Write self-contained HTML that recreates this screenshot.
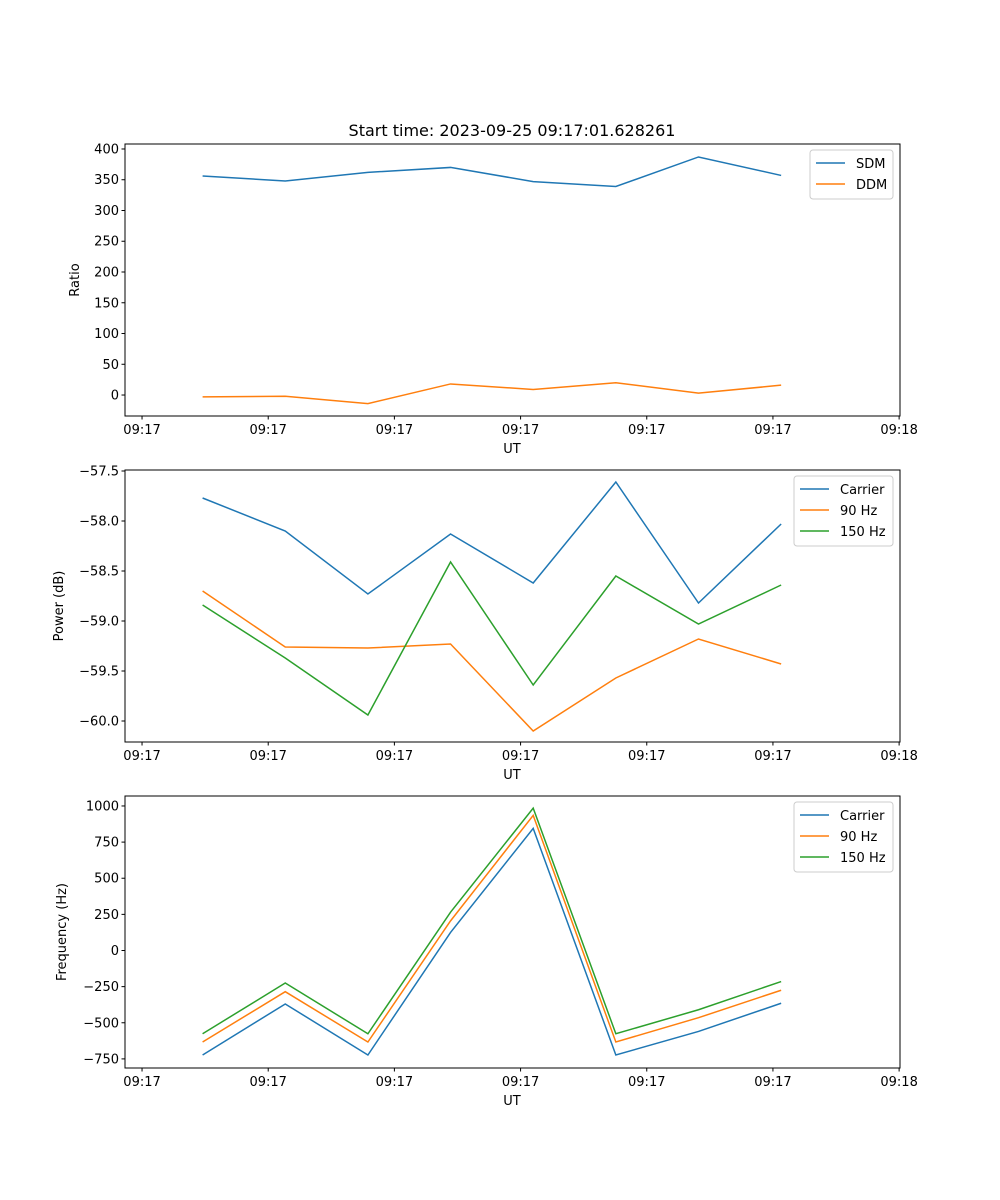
<!DOCTYPE html>
<html><head><meta charset="utf-8"><style>
html,body{margin:0;padding:0;background:#fff}
svg{display:block;font-family:"DejaVu Sans","Liberation Sans",sans-serif}
</style></head><body>
<svg id="fig" width="1000" height="1200" viewBox="0 0 1000 1200">
<rect width="1000" height="1200" fill="#fff"/>
<text x="512" y="136" text-anchor="middle" font-size="16">Start time: 2023-09-25 09:17:01.628261</text>
</svg>
<script>
const times = [4.8, 11.35, 17.9, 24.45, 31.0, 37.55, 44.1, 50.65];
const xTicks = [0, 10, 20, 30, 40, 50, 60];
const xTickLabels = ["09:17","09:17","09:17","09:17","09:17","09:17","09:18"];
const sdm = [356, 348, 362, 370, 347, 339, 387, 357];
const ddm = [-3, -2, -14, 18, 9, 20, 3, 16];
const ratioTicks = [0,50,100,150,200,250,300,350,400];
const powCarrier = [-57.77,-58.10,-58.73,-58.13,-58.62,-57.61,-58.82,-58.03];
const pow90 = [-58.70,-59.26,-59.27,-59.23,-60.10,-59.57,-59.18,-59.43];
const pow150 = [-58.84,-59.37,-59.94,-58.41,-59.64,-58.55,-59.03,-58.64];
const powTicks = [-60.0,-59.5,-59.0,-58.5,-58.0,-57.5];
const freqCarrier = [-723,-370,-723,125,845,-723,-560,-365];
const freq90 = [-633,-285,-633,205,935,-633,-465,-275];
const freq150 = [-576,-225,-576,265,985,-576,-410,-215];
const freqTicks = [-750,-500,-250,0,250,500,750,1000];

const NS="http://www.w3.org/2000/svg";
const fig=document.getElementById('fig');
function mk(tag,attrs,parent){const e=document.createElementNS(NS,tag);for(const k in attrs)e.setAttribute(k,attrs[k]);(parent||fig).appendChild(e);return e;}
const X0=125,X1=900,xmin=-1.35,xmax=60.07;
const xs=v=>X0+(v-xmin)/(xmax-xmin)*(X1-X0);

function panel(name,top,bot,ymin,ymax,yticks,fmt,ylabel,ylabelX,series,legend){
  const g=mk('g',{});
  
  
  const ys=v=>bot-(v-ymin)/(ymax-ymin)*(bot-top);
  series.forEach(s=>{
    const d=s.vals.map((v,i)=>(i?'L':'M')+xs(times[i]).toFixed(2)+' '+ys(v).toFixed(2)).join(' ');
    const p=mk('path',{d:d,fill:'none',stroke:s.color,'stroke-width':1.5},g);
    
    
  });
  const fr=mk('rect',{x:X0,y:top,width:X1-X0,height:bot-top,fill:'none',stroke:'#000','stroke-width':1},g);
  
  
  xTicks.forEach((t,i)=>{
    const x=xs(t);
    mk('line',{x1:x,x2:x,y1:bot,y2:bot+3.5,stroke:'#000'},g);
    const tx=mk('text',{x:x,y:bot+18,'text-anchor':'middle','font-size':13},g);
    tx.textContent=xTickLabels[i];
    
    
  });
  yticks.forEach(t=>{
    const y=ys(t);
    mk('line',{x1:X0-3.5,x2:X0,y1:y,y2:y,stroke:'#000'},g);
    const tx=mk('text',{x:X0-6,y:y+4.5,'text-anchor':'end','font-size':13},g);
    tx.textContent=fmt(t);
    
    
  });
  const xl=mk('text',{x:512,y:bot+37,'text-anchor':'middle','font-size':13},g);
  xl.textContent='UT';
  
  
  const cy=(top+bot)/2;
  const yl=mk('text',{x:ylabelX,y:cy,'text-anchor':'middle','font-size':13,transform:`rotate(-90 ${ylabelX} ${cy})`},g);
  yl.textContent=ylabel;
  
  
  const lg=mk('g',{},g);
  
  
  const lh=series.length*21+7;
  mk('rect',{x:legend.x,y:top+6,width:893-legend.x,height:lh,rx:3,fill:'#fff','fill-opacity':0.8,stroke:'#ccc'},lg);
  series.forEach((s,i)=>{
    const y=top+19+i*21;
    mk('line',{x1:legend.x+6,x2:legend.x+35,y1:y,y2:y,stroke:s.color,'stroke-width':1.5},lg);
    const t=mk('text',{x:legend.x+46,y:y+5,'font-size':13},lg);
    t.textContent=s.label;
    
    
  });
}
const C1='#1f77b4',C2='#ff7f0e',C3='#2ca02c';
panel('ratio',144,416,-34.1,408.1,ratioTicks,v=>String(v),'Ratio',79,
  [{key:'sdm',label:'SDM',vals:sdm,color:C1},{key:'ddm',label:'DDM',vals:ddm,color:C2}],{x:810});
panel('power',470,742,-60.21,-57.49,powTicks,v=>'\u2212'.repeat(1)+Math.abs(v).toFixed(1),'Power (dB)',63,
  [{key:'carrier',label:'Carrier',vals:powCarrier,color:C1},{key:'90hz',label:'90 Hz',vals:pow90,color:C2},{key:'150hz',label:'150 Hz',vals:pow150,color:C3}],{x:794});
panel('frequency',796,1068,-813,1069,freqTicks,v=>(v<0?'\u2212':'')+Math.abs(v),'Frequency (Hz)',66,
  [{key:'carrier',label:'Carrier',vals:freqCarrier,color:C1},{key:'90hz',label:'90 Hz',vals:freq90,color:C2},{key:'150hz',label:'150 Hz',vals:freq150,color:C3}],{x:794});
</script>
</body></html>
